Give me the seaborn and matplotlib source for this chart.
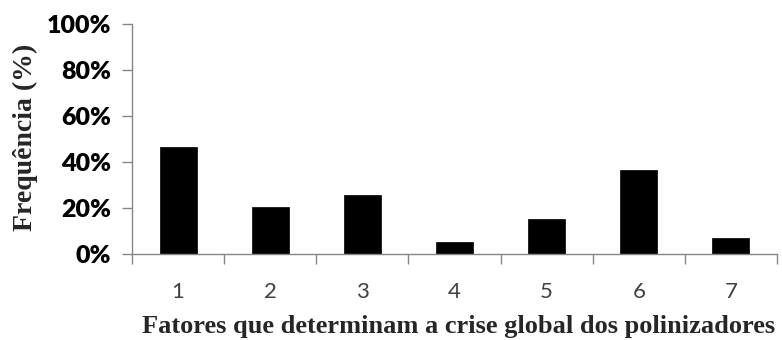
import numpy as np
import pandas as pd
import seaborn as sns
import matplotlib.pyplot as plt
from matplotlib.ticker import FixedLocator

# Data
fatores = ['1', '2', '3', '4', '5', '6', '7']
frequencia = [46.7, 20.4, 25.5, 5.2, 15.3, 36.5, 6.9]

df = pd.DataFrame({'fator': fatores, 'freq': frequencia})

sns.set_theme(style='white')
axis_gray = '#868686'

fig = plt.figure(figsize=(7.82, 3.40), dpi=100)
ax = fig.add_axes([0.1688, 0.2529, 0.8248, 0.6751])

sns.barplot(data=df, x='fator', y='freq', color='black', width=0.4,
            edgecolor='black', linewidth=0.5, saturation=1, ax=ax)

ax.set_ylim(0, 100)
ax.set_xlim(-0.5, len(fatores) - 0.5)

# y axis: percent labels, outward ticks
yt = np.arange(0, 101, 20)
ax.set_yticks(yt)
ax.set_yticklabels([f'{v}%' for v in yt], fontfamily='Lato', fontweight='heavy',
                   fontsize=18, color='black')
ax.tick_params(axis='y', which='major', direction='out', length=7, width=1,
               color=axis_gray, pad=8, left=True)

# x axis: ticks at category boundaries, labels at centres
ax.xaxis.set_major_locator(FixedLocator(np.arange(-0.5, len(fatores), 1.0)))
ax.xaxis.set_minor_locator(FixedLocator(np.arange(len(fatores))))
ax.set_xticklabels([], minor=False)
ax.set_xticklabels(fatores, minor=True, fontfamily='Lato', fontsize=16,
                   color='#404040')
ax.tick_params(axis='x', which='major', direction='out', length=7, width=1,
               color=axis_gray, bottom=True)
ax.tick_params(axis='x', which='minor', length=0, pad=20, bottom=True)

for side in ['top', 'right']:
    ax.spines[side].set_visible(False)
for side in ['left', 'bottom']:
    ax.spines[side].set_color(axis_gray)
    ax.spines[side].set_linewidth(1)

ax.set_xlabel('')
ax.set_ylabel('')
fig.text(0.587, 0.04, 'Fatores que determinam a crise global dos polinizadores',
         fontfamily='Liberation Serif', fontweight='bold', fontsize=19,
         ha='center', va='center')
fig.text(0.032, 0.596, 'Frequência (%)', fontfamily='Liberation Serif',
         fontweight='bold', fontsize=20, rotation=90, ha='center', va='center')

fig.savefig('out.png', dpi=100)
